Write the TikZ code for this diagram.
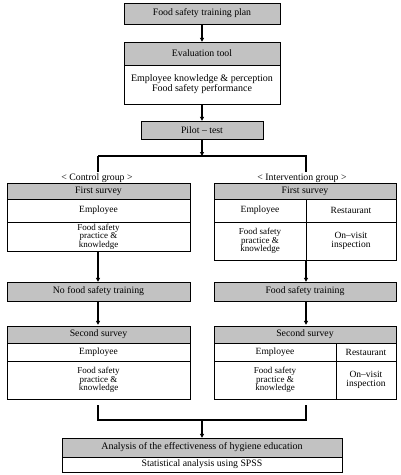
\documentclass[tikz,border=0pt]{standalone}
\usepackage{fontspec}
\setmainfont{Liberation Serif}
\usetikzlibrary{arrows.meta,positioning}

\begin{document}
\begin{tikzpicture}[x=1pt,y=-1pt]

\tikzset{hd/.style={draw,fill=black!24,inner sep=0pt,font=\fontsize{9.8}{11}\selectfont},
         cell/.style={draw,fill=white,inner sep=0pt,align=center,font=\fontsize{9.5}{9.5}\selectfont},
         small/.style={font=\fontsize{9}{8.6}\selectfont},
         link/.style={line width=1.2pt},
         arr/.style={link,-{Triangle[length=4pt,width=4pt]}}}

\useasboundingbox (0,0) rectangle (400,475);

% top part
\node[hd,minimum width=156pt,minimum height=21pt] (plan) at (202,13.5) {Food safety training plan};
\node[hd,minimum width=156pt,minimum height=23pt] (evalhead) at (202,53.5) {Evaluation tool};
\node[cell,minimum width=156pt,minimum height=39pt,font=\fontsize{10}{10}\selectfont] (evalbody) at (202,84.5) {Employee knowledge \& perception\\Food safety performance};
\node[hd,minimum width=122pt,minimum height=18pt] (pilot) at (202,130) {Pilot -- test};

\draw[arr] (plan) -- (evalhead);
\draw[arr] (evalbody) -- (pilot);

% split into two groups
\coordinate (split) at (202,156);
\coordinate (cl) at (98,156);
\coordinate (cr) at (306,156);
\draw[arr] (pilot) -- (split);
\draw[link] (cl) -- (cr) -- ++(0,16);
\draw[link] (cl) -- ++(0,16);
\node[font=\fontsize{9.8}{9}\selectfont] (ctrl) at (97,178) {< Control group >};
\node[font=\fontsize{9.8}{9}\selectfont] (intv) at (302,178) {< Intervention group >};

% control group
\node[hd,minimum width=183pt,minimum height=16pt] (c1head) at (98.5,191) {First survey};
\node[cell,minimum width=183pt,minimum height=23pt] (c1emp) at (98.5,210.5) {Employee};
\node[cell,small,minimum width=183pt,minimum height=29pt] (c1body) at (98.5,236.5) {Food safety\\practice \&\\knowledge};
\node[hd,minimum width=183pt,minimum height=19pt] (notrain) at (98.5,291.5) {No food safety training};
\node[hd,minimum width=183pt,minimum height=17pt] (c2head) at (98.5,334.5) {Second survey};
\node[cell,minimum width=183pt,minimum height=18pt] (c2emp) at (98.5,352) {Employee};
\node[cell,small,minimum width=183pt,minimum height=38pt] (c2body) at (98.5,380) {Food safety\\practice \&\\knowledge};

\draw[arr] (c1body.south -| cl) -- (notrain.north -| cl);
\draw[arr] (notrain.south -| cl) -- ([yshift=1pt]c2head.north -| cl);

% intervention group
\node[hd,minimum width=182pt,minimum height=16pt] (i1head) at (305,191) {First survey};
\node[cell,minimum width=92pt,minimum height=23pt] (i1emp) at (260,210.5) {Employee};
\node[cell,minimum width=90pt,minimum height=23pt] (i1rest) at (351,210.5) {Restaurant};
\node[cell,small,minimum width=92pt,minimum height=38pt] (i1body) at (260,241) {Food safety\\practice \&\\knowledge};
\node[cell,minimum width=90pt,minimum height=38pt] (i1visit) at (351,241) {On--visit\\inspection};
\node[hd,minimum width=182pt,minimum height=19pt] (train) at (305,291.5) {Food safety training};
\node[hd,minimum width=182pt,minimum height=17pt] (i2head) at (305,334.5) {Second survey};
\node[cell,minimum width=122pt,minimum height=18pt] (i2emp) at (275,352) {Employee};
\node[cell,minimum width=60pt,minimum height=18pt] (i2rest) at (366,352) {Restaurant};
\node[cell,small,minimum width=122pt,minimum height=38pt] (i2body) at (275,380) {Food safety\\practice \&\\knowledge};
\node[cell,minimum width=60pt,minimum height=38pt] (i2visit) at (366,380) {On--visit\\inspection};

\draw[arr] (i1body.south -| cr) -- (train.north -| cr);
\draw[arr] (train.south -| cr) -- ([yshift=1pt]i2head.north -| cr);

% analysis
\node[hd,minimum width=280pt,minimum height=19pt,font=\fontsize{10}{11}\selectfont] (anahead) at (202,447.5) {Analysis of the effectiveness of hygiene education};
\node[cell,minimum width=280pt,minimum height=15pt,font=\fontsize{9.8}{10}\selectfont] (anabody) at (202,464.5) {Statistical analysis using SPSS};

\coordinate (join) at (202,420);
\draw[link] ([yshift=-6pt]c2body.south -| cl) |- (join) -| ([yshift=-6pt]i2body.south -| cr);
\draw[arr] (join) -- (anahead);

\end{tikzpicture}
\end{document}
